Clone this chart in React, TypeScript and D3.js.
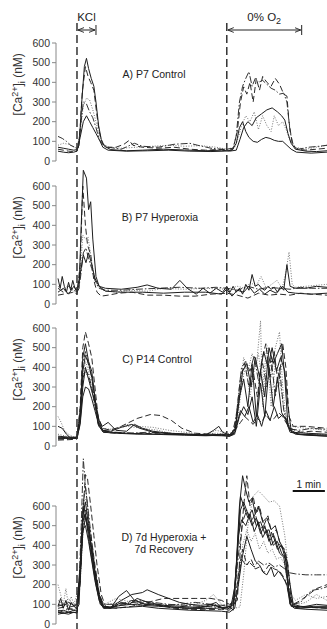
import React, { useRef, useEffect } from 'react';
import * as d3 from 'd3';

type Pt = [number, number];

// time in seconds, [Ca2+]i in nM
const kclWindow = [36, 72];
const anoxiaWindow = [320, 462];
const scaleBar = [445, 506];
const yTicks = [0, 100, 200, 300, 400, 500, 600];

// A) P7 Control
const a1: Pt[] = [[0,70],[10,65],[20,60],[30,55],[36,58],[40,80],[45,300],[50,480],[54,522],[58,470],[63,420],[68,380],[72,300],[77,180],[82,110],[88,75],[100,58],[130,52],[160,55],[200,60],[240,56],[280,52],[310,55],[325,50],[338,55],[345,110],[352,170],[360,200],[368,180],[376,220],[386,240],[396,260],[406,270],[416,250],[424,230],[430,208],[436,140],[442,90],[450,60],[470,50],[490,48],[510,52]];
const a2: Pt[] = [[0,60],[10,55],[20,50],[30,48],[36,50],[41,120],[46,350],[52,480],[57,430],[62,400],[68,360],[73,250],[78,150],[84,90],[92,70],[110,70],[125,85],[135,105],[142,80],[160,70],[190,65],[220,70],[250,60],[280,55],[300,58],[320,60],[332,65],[340,150],[346,300],[352,377],[358,340],[364,400],[370,300],[376,420],[382,360],[388,430],[396,400],[404,380],[412,420],[420,390],[428,340],[434,330],[438,200],[444,90],[452,60],[470,55],[490,60],[510,65]];
const a3: Pt[] = [[0,80],[10,90],[20,85],[30,70],[36,65],[42,150],[48,280],[54,320],[60,310],[66,260],[72,200],[78,130],[84,90],[95,70],[120,65],[150,70],[180,75],[210,80],[240,75],[270,78],[300,70],[320,60],[335,70],[342,120],[348,180],[356,230],[364,200],[372,250],[380,160],[388,230],[396,180],[404,150],[410,230],[418,180],[426,200],[434,150],[440,100],[448,70],[470,60],[490,70],[510,80]];
const a4: Pt[] = [[0,50],[10,45],[20,42],[30,45],[36,50],[42,120],[48,200],[54,230],[60,200],[66,170],[72,140],[78,110],[85,70],[95,55],[130,50],[170,52],[210,55],[250,50],[290,48],[315,50],[330,55],[338,90],[344,170],[350,200],[356,150],[362,120],[370,100],[378,95],[386,110],[394,120],[402,115],[410,105],[418,100],[426,100],[434,80],[442,60],[452,45],[480,40],[510,45]];
const a5: Pt[] = [[0,125],[8,115],[16,100],[24,80],[32,70],[38,60],[43,180],[48,300],[54,290],[60,250],[66,220],[72,170],[78,110],[84,85],[95,70],[120,60],[145,90],[160,75],[190,70],[220,85],[250,90],[265,80],[290,65],[310,60],[325,55],[332,60],[338,130],[344,300],[350,380],[356,420],[362,454],[368,380],[374,420],[380,400],[388,410],[396,390],[404,370],[412,360],[420,340],[428,345],[434,300],[440,150],[446,80],[456,60],[475,70],[495,75],[510,80]];

// B) P7 Hyperoxia
const b1: Pt[] = [[0,130],[4,80],[8,140],[12,90],[16,60],[20,110],[24,70],[28,120],[32,80],[36,60],[40,80],[44,400],[48,680],[54,640],[58,480],[62,520],[66,330],[72,140],[78,90],[90,80],[120,75],[150,85],[169,97],[190,80],[215,75],[231,120],[245,80],[262,50],[275,80],[288,55],[300,80],[312,60],[320,90],[326,60],[332,90],[338,60],[344,80],[350,50],[356,100],[362,70],[368,150],[374,90],[380,100],[386,80],[392,70],[398,90],[404,75],[410,85],[416,60],[422,90],[428,70],[434,200],[440,90],[450,80],[470,80],[490,90],[510,85]];
const b2: Pt[] = [[0,45],[10,50],[20,55],[30,60],[36,50],[42,200],[47,600],[52,400],[56,300],[62,250],[68,120],[74,60],[82,40],[95,45],[115,55],[140,60],[170,45],[200,45],[230,40],[260,40],[290,50],[320,55],[340,45],[360,30],[380,55],[400,45],[420,50],[440,45],[460,55],[480,50],[510,45]];
const b3: Pt[] = [[0,90],[10,70],[20,100],[30,60],[36,70],[42,150],[47,350],[52,330],[57,340],[62,250],[68,150],[75,90],[85,70],[110,60],[140,70],[170,65],[200,80],[240,75],[280,80],[320,75],[340,90],[355,80],[365,110],[375,90],[385,140],[395,80],[405,100],[415,120],[425,80],[432,160],[438,264],[444,100],[450,85],[470,90],[490,95],[510,100]];
const b4: Pt[] = [[0,80],[10,60],[20,90],[30,70],[36,60],[42,120],[48,260],[53,285],[58,230],[64,180],[70,120],[78,80],[90,70],[120,70],[150,75],[190,80],[230,85],[270,80],[300,85],[320,80],[340,70],[360,90],[380,75],[400,85],[420,80],[440,75],[460,85],[480,80],[510,80]];
const b5: Pt[] = [[0,60],[10,80],[20,50],[30,90],[36,70],[42,150],[48,250],[53,210],[58,260],[64,200],[70,130],[78,90],[90,65],[120,60],[160,60],[200,55],[240,60],[280,60],[310,50],[320,75],[330,40],[340,70],[352,60],[362,90],[372,55],[382,75],[392,50],[402,70],[414,55],[426,90],[436,60],[450,55],[480,50],[510,55]];

// C) P14 Control
const c1: Pt[] = [[0,40],[15,38],[30,40],[36,45],[42,150],[47,450],[52,520],[58,430],[64,380],[70,250],[76,120],[84,80],[100,70],[130,65],[160,62],[200,58],[240,55],[280,52],[310,55],[325,50],[335,60],[342,200],[350,380],[358,420],[366,300],[374,450],[382,350],[390,480],[398,400],[406,500],[414,380],[422,450],[430,380],[436,200],[442,80],[455,60],[480,55],[510,50]];
const c2: Pt[] = [[0,35],[20,35],[36,40],[42,200],[47,500],[52,580],[58,520],[64,450],[70,300],[76,150],[84,90],[100,80],[120,100],[150,140],[175,160],[195,155],[215,130],[235,90],[260,65],[290,60],[315,55],[330,60],[338,150],[346,350],[354,420],[362,300],[370,380],[378,250],[386,430],[394,520],[402,350],[410,480],[418,300],[426,520],[432,400],[438,150],[446,100],[470,100],[490,95],[510,90]];
const c3: Pt[] = [[0,150],[6,120],[12,80],[20,60],[30,45],[36,45],[42,150],[47,350],[52,430],[58,380],[64,300],[70,200],[76,110],[84,90],[100,85],[130,100],[160,90],[190,80],[220,60],[250,55],[280,60],[300,80],[315,70],[328,60],[336,100],[344,250],[352,450],[360,380],[368,470],[376,400],[384,636],[388,200],[396,450],[404,350],[412,500],[420,580],[426,300],[432,150],[440,90],[460,70],[490,60],[510,55]];
const c4: Pt[] = [[0,100],[8,90],[16,60],[24,40],[36,38],[42,120],[47,300],[52,400],[58,340],[64,280],[70,220],[78,130],[84,100],[95,120],[110,80],[130,75],[145,110],[160,90],[180,75],[210,65],[250,60],[280,55],[295,80],[305,100],[312,70],[320,60],[330,55],[338,100],[346,180],[354,150],[362,200],[370,120],[378,160],[386,100],[394,180],[402,130],[410,200],[418,140],[426,160],[434,130],[440,80],[450,60],[470,55],[510,50]];
const c5: Pt[] = [[0,40],[20,40],[36,42],[42,180],[47,420],[52,480],[58,410],[64,350],[70,220],[76,110],[84,75],[110,70],[140,65],[170,70],[200,68],[240,60],[280,58],[310,55],[325,50],[334,80],[340,200],[348,400],[356,430],[364,380],[372,460],[380,330],[388,420],[396,300],[404,450],[412,250],[420,400],[428,180],[434,120],[442,85],[460,80],[480,90],[510,85]];
const c6: Pt[] = [[0,45],[20,42],[36,40],[42,110],[47,250],[52,300],[58,290],[64,240],[70,180],[78,100],[86,70],[110,65],[150,60],[190,60],[230,58],[270,55],[310,52],[326,50],[336,70],[344,150],[352,200],[360,160],[368,250],[376,100],[384,320],[392,150],[400,400],[408,200],[416,350],[424,170],[432,130],[440,70],[460,60],[510,55]];
const c7: Pt[] = [[0,60],[15,50],[30,45],[36,48],[42,150],[47,330],[52,380],[58,340],[64,280],[70,200],[78,110],[88,80],[110,90],[130,110],[150,100],[180,95],[210,80],[240,70],[270,60],[300,65],[320,60],[332,70],[340,120],[348,300],[356,420],[364,250],[372,380],[380,470],[388,300],[396,510],[404,200],[412,420],[420,350],[428,190],[434,140],[442,100],[470,90],[510,80]];
const c8: Pt[] = [[0,50],[20,45],[36,45],[42,160],[47,380],[52,460],[58,420],[64,350],[70,240],[78,120],[85,80],[100,75],[120,95],[140,110],[155,90],[180,70],[220,60],[260,58],[290,55],[310,60],[325,55],[336,90],[344,250],[352,340],[360,200],[368,420],[376,150],[384,380],[392,250],[400,500],[408,420],[416,470],[424,520],[430,350],[436,100],[444,70],[470,65],[510,60]];
const c9: Pt[] = [[0,30],[20,32],[36,35],[42,130],[47,340],[52,390],[58,360],[64,300],[70,210],[78,100],[86,70],[110,65],[150,65],[190,62],[230,60],[270,58],[300,60],[318,55],[330,60],[338,90],[346,120],[354,150],[362,130],[370,110],[378,140],[386,120],[394,160],[402,130],[410,140],[418,170],[426,150],[432,120],[440,90],[460,70],[480,75],[510,70]];

// D) 7d Hyperoxia + 7d Recovery
const r1: Pt[] = [[0,90],[5,130],[10,80],[15,120],[20,70],[25,110],[30,90],[36,80],[40,100],[44,400],[49,600],[54,520],[60,400],[66,300],[72,200],[80,100],[88,80],[100,85],[120,120],[140,150],[160,160],[169,174],[190,150],[210,130],[230,110],[250,100],[270,95],[290,100],[305,90],[315,80],[325,90],[332,70],[338,300],[344,600],[350,754],[356,680],[362,620],[368,640],[374,560],[380,600],[388,520],[396,540],[404,480],[412,500],[420,420],[428,380],[434,320],[440,200],[446,100],[460,90],[480,85],[510,80]];
const r2: Pt[] = [[0,70],[10,60],[20,80],[30,70],[36,75],[40,200],[44,500],[48,840],[52,700],[56,600],[62,400],[68,300],[74,180],[82,100],[90,85],[110,90],[130,100],[150,120],[180,110],[210,100],[240,95],[270,90],[300,85],[320,80],[334,100],[340,200],[348,330],[356,300],[364,310],[372,290],[380,320],[390,300],[400,310],[410,290],[420,300],[430,280],[440,260],[450,255],[470,250],[490,250],[510,250]];
const r3: Pt[] = [[0,60],[10,55],[20,60],[30,58],[36,60],[42,200],[47,550],[52,760],[56,738],[62,600],[68,450],[74,300],[82,150],[90,90],[110,80],[140,90],[170,110],[200,130],[230,130],[260,130],[290,130],[310,120],[325,100],[340,120],[346,400],[352,600],[358,754],[364,600],[370,650],[376,560],[382,600],[390,500],[398,550],[406,450],[414,480],[422,400],[430,380],[436,300],[442,120],[450,90],[470,85],[510,80]];
const r4: Pt[] = [[0,200],[5,150],[10,100],[15,180],[20,90],[25,140],[30,100],[36,150],[40,200],[45,400],[50,650],[55,600],[60,500],[66,350],[72,220],[80,120],[90,100],[120,110],[150,95],[180,100],[210,90],[240,80],[270,85],[300,90],[320,100],[335,80],[345,87],[352,250],[360,500],[370,650],[380,677],[390,650],[400,620],[410,626],[420,600],[430,450],[436,300],[442,150],[450,120],[470,150],[490,130],[510,140]];
const r5: Pt[] = [[0,50],[10,55],[20,50],[30,60],[36,55],[42,250],[47,480],[52,500],[58,420],[64,320],[70,220],[78,120],[86,85],[100,80],[130,85],[160,90],[190,80],[220,75],[250,70],[280,68],[310,65],[325,60],[335,80],[342,200],[350,350],[358,446],[366,380],[374,320],[382,300],[390,260],[396,250],[404,290],[410,240],[418,270],[426,240],[434,200],[440,100],[448,80],[470,75],[510,70]];
const r6: Pt[] = [[0,100],[10,90],[20,110],[30,95],[36,100],[42,300],[47,560],[52,620],[58,500],[64,380],[70,260],[78,140],[86,90],[100,80],[120,110],[135,100],[150,130],[170,110],[200,95],[230,90],[260,85],[280,90],[300,110],[310,80],[322,75],[332,100],[340,350],[346,580],[352,620],[360,560],[368,500],[376,540],[384,460],[392,500],[400,420],[408,450],[416,380],[424,400],[432,320],[440,100],[452,85],[470,90],[490,100],[510,95]];
const r7: Pt[] = [[0,80],[10,85],[20,75],[36,80],[42,220],[47,500],[52,580],[58,520],[64,420],[70,300],[78,160],[86,90],[100,85],[120,100],[140,120],[160,110],[190,95],[220,80],[250,75],[280,72],[310,75],[325,70],[336,110],[342,260],[350,380],[358,300],[366,330],[374,280],[382,290],[390,260],[400,300],[410,280],[420,270],[430,230],[438,150],[446,100],[460,120],[475,150],[490,180],[510,200]];
const r8: Pt[] = [[0,65],[10,70],[20,60],[30,70],[36,65],[42,260],[47,520],[52,560],[58,480],[64,360],[70,250],[78,130],[86,80],[100,80],[115,140],[130,170],[145,120],[165,100],[190,95],[220,85],[250,80],[280,78],[300,80],[315,85],[328,90],[336,200],[342,450],[348,530],[356,500],[364,560],[372,470],[380,520],[388,440],[396,480],[404,400],[412,430],[420,360],[428,340],[436,200],[442,90],[460,80],[480,85],[510,85]];
const r9: Pt[] = [[0,120],[10,100],[20,130],[30,90],[36,120],[42,200],[47,450],[52,550],[58,470],[64,350],[70,240],[78,140],[88,100],[110,130],[140,110],[170,100],[200,100],[230,95],[260,100],[280,120],[295,150],[310,100],[325,90],[335,95],[342,200],[350,400],[358,480],[366,420],[374,460],[382,380],[390,420],[398,360],[406,380],[414,330],[422,340],[430,300],[436,200],[442,110],[455,100],[470,110],[490,150],[510,120]];
const r10: Pt[] = [[0,60],[10,55],[20,60],[36,58],[42,230],[47,460],[52,540],[58,470],[64,380],[70,270],[78,150],[86,90],[100,85],[120,95],[140,100],[160,95],[190,90],[220,85],[250,80],[275,85],[295,95],[310,85],[325,80],[334,120],[340,380],[346,650],[352,600],[360,540],[368,580],[376,500],[384,520],[392,460],[400,480],[408,400],[416,420],[424,360],[432,330],[438,150],[446,90],[465,85],[485,90],[510,90]];
const r11: Pt[] = [[0,90],[10,100],[20,85],[36,95],[42,250],[47,600],[52,700],[58,560],[64,420],[70,280],[78,150],[86,100],[110,100],[140,110],[170,100],[200,95],[230,100],[260,110],[290,100],[310,95],[325,90],[334,130],[342,350],[350,520],[358,580],[366,520],[374,560],[382,480],[390,500],[398,440],[406,470],[414,420],[422,400],[430,360],[438,180],[446,100],[460,110],[480,170],[500,180],[510,190]];

type Style = 'solid' | 'dash' | 'dot' | 'dashdot';

const panels: { title: string[]; traces: [Pt[], Style][] }[] = [
  { title: ['A) P7 Control'], traces: [[a3, 'dot'], [a4, 'solid'], [a5, 'dashdot'], [a2, 'dash'], [a1, 'solid']] },
  { title: ['B) P7 Hyperoxia'], traces: [[b3, 'dot'], [b4, 'dashdot'], [b5, 'solid'], [b2, 'dash'], [b1, 'solid']] },
  { title: ['C) P14 Control'], traces: [[c3, 'dot'], [c7, 'dot'], [c5, 'dashdot'], [c9, 'dash'], [c2, 'dash'], [c4, 'solid'], [c6, 'solid'], [c8, 'solid'], [c1, 'solid']] },
  { title: ['D) 7d Hyperoxia +', '7d Recovery'], traces: [[r4, 'dot'], [r9, 'dot'], [r2, 'dashdot'], [r11, 'dashdot'], [r7, 'dash'], [r3, 'dash'], [r5, 'solid'], [r6, 'solid'], [r8, 'solid'], [r10, 'solid'], [r1, 'solid']] },
];

const styles: Record<Style, { dash: string | null; color: string; width: number }> = {
  solid: { dash: null, color: '#1e1e1e', width: 1 },
  dash: { dash: '6,3', color: '#2a2a2a', width: 1 },
  dot: { dash: '1,1.6', color: '#777', width: 1 },
  dashdot: { dash: '7,2,1.5,2', color: '#333', width: 1 },
};

const App: React.FC = () => {
  const svgRef = useRef<SVGSVGElement>(null);
  const width = 327;
  const height = 629;

  useEffect(() => {
    if (!svgRef.current) return;
    const svg = d3.select(svgRef.current);
    svg.selectAll('*').remove();

    const font = 'Arial, "Liberation Sans", sans-serif';
    const x = d3.scaleLinear().domain([0, 510]).range([58, 327]);
    const axisX = 56;
    const panelBottoms = [161, 304, 446, 624];
    const panelH = 118;
    const titleX = [154, 160, 157, 164];

    panels.forEach((p, i) => {
      const y = d3.scaleLinear().domain([0, 600]).range([panelBottoms[i], panelBottoms[i] - panelH]);
      const g = svg.append('g');

      // y axis
      g.append('line')
        .attr('x1', axisX).attr('x2', axisX)
        .attr('y1', y(0)).attr('y2', y(600))
        .attr('stroke', '#888').attr('stroke-width', 1);
      yTicks.forEach(t => {
        g.append('line')
          .attr('x1', axisX - 4).attr('x2', axisX)
          .attr('y1', y(t)).attr('y2', y(t))
          .attr('stroke', '#888').attr('stroke-width', 1);
        g.append('text')
          .attr('x', axisX - 6).attr('y', y(t) + 3.5)
          .attr('text-anchor', 'end')
          .attr('font-family', font).attr('font-size', '10.5px')
          .attr('fill', '#333')
          .text(t);
      });

      // y label
      const lab = g.append('text')
        .attr('transform', `translate(22,${y(390)}) rotate(-90)`)
        .attr('text-anchor', 'middle')
        .attr('font-family', font).attr('font-size', '12px')
        .attr('fill', '#333');
      lab.append('tspan').text('[Ca');
      lab.append('tspan').attr('dy', -4.5).attr('font-size', '9px').text('2+');
      lab.append('tspan').attr('dy', 4.5).text(']');
      lab.append('tspan').attr('dy', 3).attr('font-size', '9px').text('i');
      lab.append('tspan').attr('dy', -3).text(' (nM)');

      // title
      p.title.forEach((t, k) => {
        g.append('text')
          .attr('x', titleX[i]).attr('y', y(420) + k * 12)
          .attr('text-anchor', 'middle')
          .attr('font-family', font).attr('font-size', '10.5px')
          .attr('fill', '#222')
          .text(t);
      });

      const line = d3.line<Pt>().x(d => x(d[0])).y(d => y(d[1]));
      p.traces.forEach(([data, s]) => {
        const st = styles[s];
        g.append('path')
          .attr('d', line(data))
          .attr('fill', 'none')
          .attr('stroke', st.color)
          .attr('stroke-width', st.width)
          .attr('stroke-linejoin', 'round')
          .attr('stroke-dasharray', st.dash);
      });
    });

    // stimulus onset lines
    [kclWindow[0], anoxiaWindow[0]].forEach(t => {
      svg.append('line')
        .attr('x1', x(t)).attr('x2', x(t))
        .attr('y1', 23).attr('y2', height)
        .attr('stroke', '#333').attr('stroke-width', 1.5)
        .attr('stroke-dasharray', '8,4');
    });

    // brackets
    const defs = svg.append('defs');
    defs.append('marker')
      .attr('id', 'arr').attr('viewBox', '0 0 10 10')
      .attr('refX', 10).attr('refY', 5)
      .attr('markerWidth', 6).attr('markerHeight', 6)
      .attr('orient', 'auto-start-reverse')
      .append('path').attr('d', 'M0,1 L10,5 L0,9').attr('fill', 'none').attr('stroke', '#222').attr('stroke-width', 1.5);

    [kclWindow, anoxiaWindow].forEach(w => {
      svg.append('line')
        .attr('x1', x(w[0]) + 1).attr('x2', x(w[1]) - 1)
        .attr('y1', 30).attr('y2', 30)
        .attr('stroke', '#222').attr('stroke-width', 1)
        .attr('marker-start', 'url(#arr)').attr('marker-end', 'url(#arr)');
      svg.append('line')
        .attr('x1', x(w[1])).attr('x2', x(w[1]))
        .attr('y1', 25).attr('y2', 35)
        .attr('stroke', '#222').attr('stroke-width', 1);
    });

    svg.append('text')
      .attr('x', (x(kclWindow[0]) + x(kclWindow[1])) / 2).attr('y', 21)
      .attr('text-anchor', 'middle')
      .attr('font-family', font).attr('font-size', '11.5px').attr('fill', '#222')
      .text('KCl');

    const o2 = svg.append('text')
      .attr('x', (x(anoxiaWindow[0]) + x(anoxiaWindow[1])) / 2).attr('y', 21)
      .attr('text-anchor', 'middle')
      .attr('font-family', font).attr('font-size', '11.5px').attr('fill', '#222');
    o2.append('tspan').text('0% O');
    o2.append('tspan').attr('dy', 3).attr('font-size', '9px').text('2');

    // 1 min scale bar
    svg.append('line')
      .attr('x1', x(scaleBar[0])).attr('x2', x(scaleBar[1]))
      .attr('y1', 491).attr('y2', 491)
      .attr('stroke', '#111').attr('stroke-width', 2);
    svg.append('text')
      .attr('x', (x(scaleBar[0]) + x(scaleBar[1])) / 2).attr('y', 488)
      .attr('text-anchor', 'middle')
      .attr('font-family', font).attr('font-size', '10px').attr('fill', '#222')
      .text('1 min');
  }, []);

  return (
    <svg
      ref={svgRef}
      width={width}
      height={height}
      style={{ position: 'absolute', left: 0, top: 0, background: '#fff' }}
    />
  );
};

export default App;
